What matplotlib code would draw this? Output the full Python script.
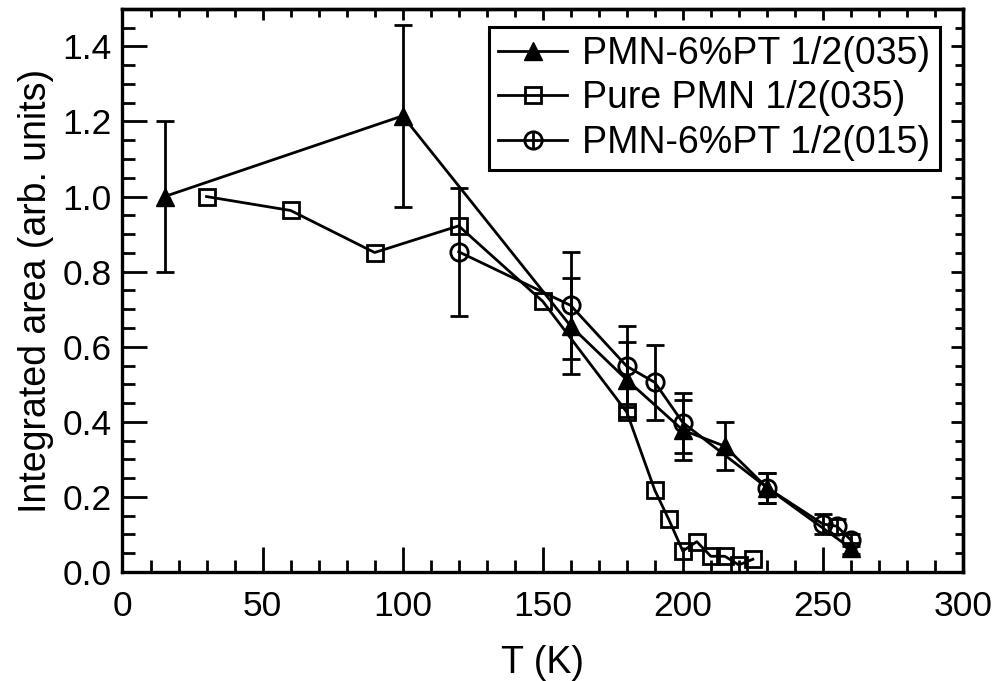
import matplotlib
matplotlib.use("Agg")
import matplotlib.pyplot as plt
from matplotlib.ticker import MultipleLocator
from matplotlib.lines import Line2D
from matplotlib.legend_handler import HandlerTuple

plt.rcParams['font.family'] = ['Liberation Sans', 'DejaVu Sans']

# PMN-6%PT 1/2(035) : filled triangles
tri_T = [15, 100, 160, 180, 200, 215, 230, 260]
tri_I = [1.0, 1.215, 0.655, 0.512, 0.378, 0.335, 0.225, 0.063]
tri_err = [0.2, 0.243, 0.128, 0.10, 0.08, 0.064, 0.04, 0.015]

# Pure PMN 1/2(035) : open squares
sq_T = [30, 60, 90, 120, 150, 180, 190, 195, 200, 205, 210, 215, 220, 225]
sq_I = [1.0, 0.963, 0.851, 0.922, 0.721, 0.426, 0.218, 0.14, 0.056, 0.081,
        0.042, 0.042, 0.019, 0.034]

# PMN-6%PT 1/2(015) : open circles
cir_T = [120, 160, 180, 190, 200, 230, 250, 255, 260]
cir_I = [0.853, 0.71, 0.548, 0.505, 0.398, 0.225, 0.128, 0.122, 0.085]
cir_err = [0.17, 0.142, 0.108, 0.10, 0.08, 0.04, 0.027, 0.02, 0.015]

labels = ["PMN-6%PT 1/2(035)", "Pure PMN 1/2(035)", "PMN-6%PT 1/2(015)"]

FS_TICK = 25.5
FS_LAB = 27
FS_LEG = 27
LW = 2.0

fig = plt.figure(figsize=(9.95, 6.81), dpi=100)
ax = fig.add_axes([0.1231, 0.160, 0.9678 - 0.1231, 0.987 - 0.160])

ax.errorbar(tri_T, tri_I, yerr=tri_err, color='black', marker='^', ms=13,
            mfc='black', mec='black', lw=LW, elinewidth=LW, capsize=6.5,
            capthick=LW, zorder=3)
ax.plot(sq_T, sq_I, color='black', marker='s', ms=11.5, mfc='none',
        mec='black', mew=LW, lw=LW, zorder=3)
ax.errorbar(cir_T, cir_I, yerr=cir_err, color='black', marker='o', ms=12.5,
            mfc='none', mec='black', mew=LW, lw=LW, elinewidth=LW,
            capsize=6.5, capthick=LW, zorder=3)

ax.set_xlim(0, 300)
ax.set_ylim(0, 1.5)
ax.xaxis.set_major_locator(MultipleLocator(50))
ax.xaxis.set_minor_locator(MultipleLocator(10))
ax.yaxis.set_major_locator(MultipleLocator(0.2))
ax.yaxis.set_minor_locator(MultipleLocator(0.05))
ax.yaxis.set_major_formatter(matplotlib.ticker.FormatStrFormatter('%.1f'))

ax.tick_params(which='major', direction='in', length=18, width=LW,
               labelsize=FS_TICK, pad=8)
ax.tick_params(axis='x', which='major', pad=13)
ax.tick_params(which='minor', direction='in', length=9, width=LW)
for s in ax.spines.values():
    s.set_linewidth(2.4)

# top / right ticks (shorter)
secx = ax.secondary_xaxis('top')
secx.xaxis.set_major_locator(MultipleLocator(50))
secx.xaxis.set_minor_locator(MultipleLocator(10))
secx.tick_params(which='major', direction='in', length=8, width=LW, labeltop=False)
secx.tick_params(which='minor', direction='in', length=6, width=LW)
secx.spines['top'].set_linewidth(2.4)
secy = ax.secondary_yaxis('right')
secy.yaxis.set_major_locator(MultipleLocator(0.2))
secy.yaxis.set_minor_locator(MultipleLocator(0.05))
secy.tick_params(which='major', direction='in', length=9, width=LW, labelright=False)
secy.tick_params(which='minor', direction='in', length=6, width=LW)
secy.spines['right'].set_linewidth(2.4)

ax.set_xlabel("T (K)", fontsize=FS_LAB, labelpad=16)
ax.set_ylabel("Integrated area (arb. units)", fontsize=FS_LAB, labelpad=6)

h1 = Line2D([], [], color='black', lw=LW, marker='^', ms=13, mfc='black', mec='black')
h2 = Line2D([], [], color='black', lw=LW, marker='s', ms=11.5, mfc='none', mec='black', mew=LW)
h3a = Line2D([], [], color='black', lw=LW, marker='o', ms=12.5, mfc='none', mec='black', mew=LW)
h3b = Line2D([], [], color='black', lw=0, marker='|', ms=12, mec='black', mew=LW)
leg = ax.legend([h1, h2, (h3a, h3b)], labels, loc='upper right',
                bbox_to_anchor=(0.9726, 0.968), borderaxespad=0,
                fontsize=FS_LEG, frameon=True, fancybox=False, edgecolor='black',
                framealpha=1.0,
                handlelength=1.85, handletextpad=0.4, labelspacing=0.22,
                borderpad=0.25,
                handler_map={tuple: HandlerTuple(ndivide=1, pad=0)})
leg.get_frame().set_linewidth(2.2)

fig.savefig("out.png", dpi=100)
